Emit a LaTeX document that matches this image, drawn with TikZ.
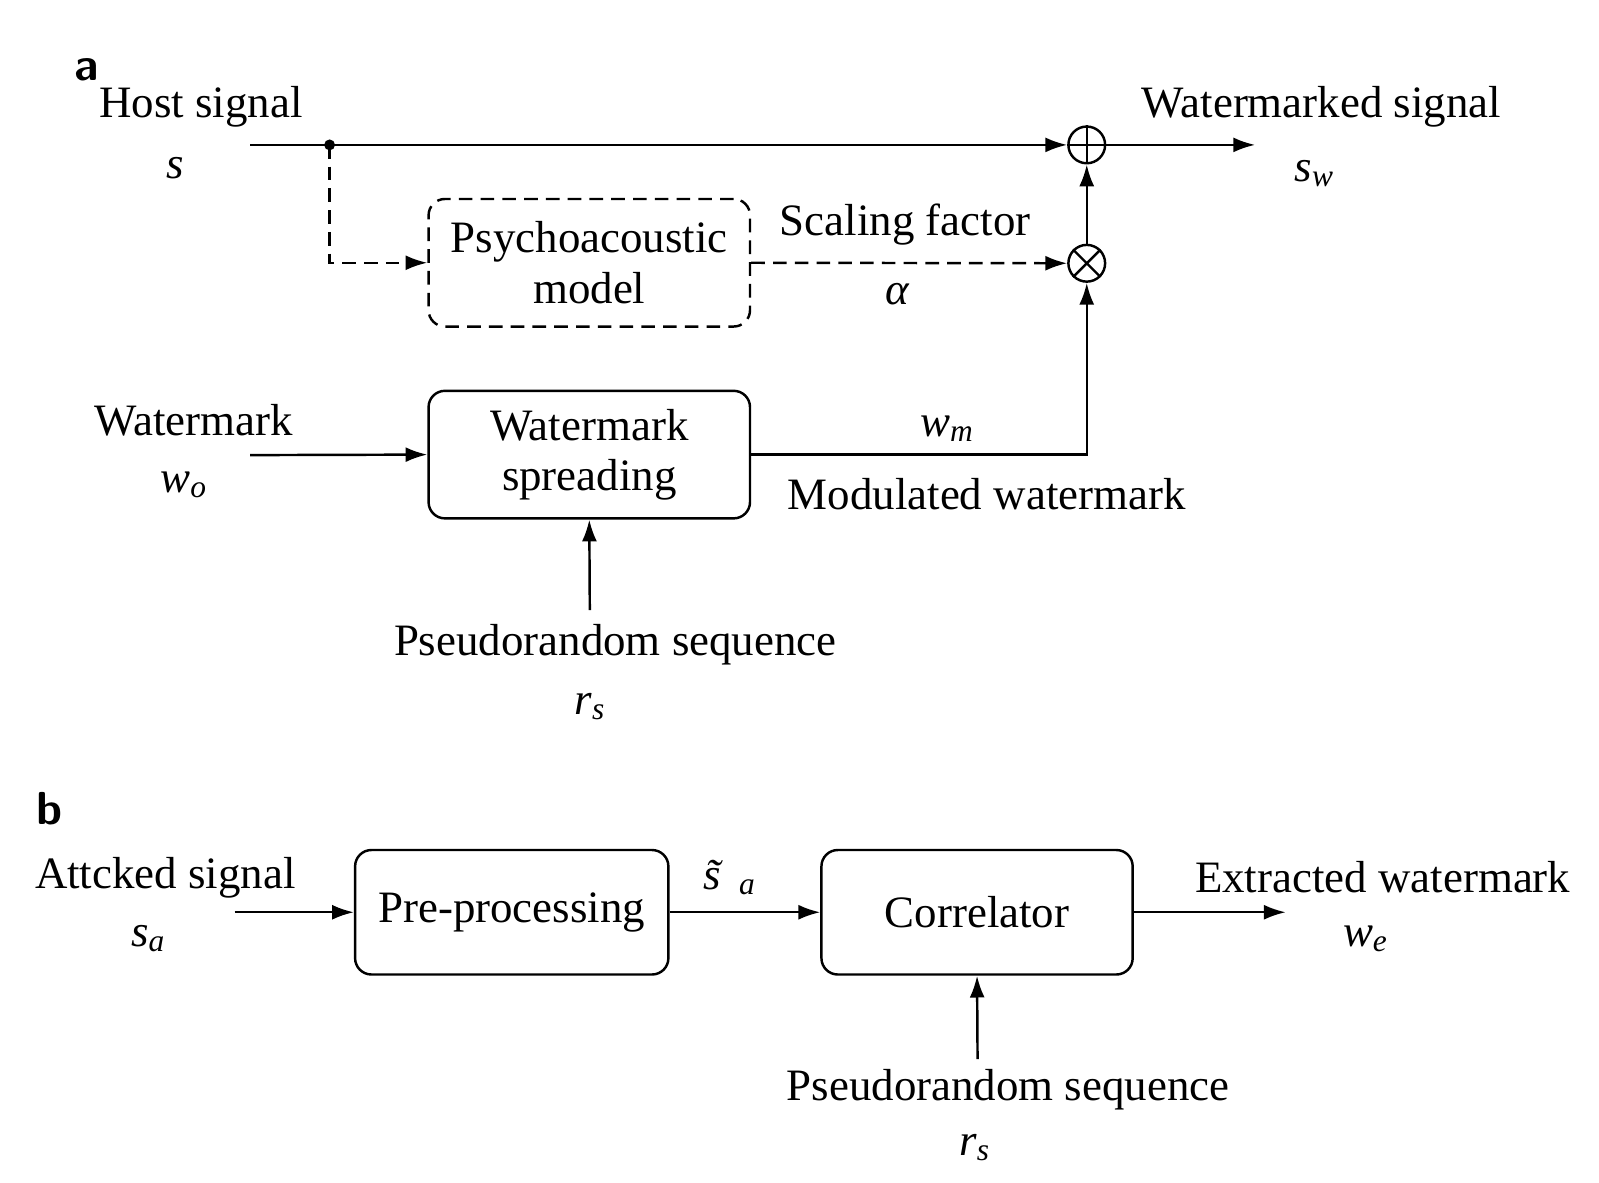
\documentclass[tikz,border=0pt]{standalone}
\usepackage{fontspec}
\setmainfont{Liberation Serif}
\usetikzlibrary{arrows.meta}
\newcommand{\vi}[2]{\textit{#1}\textsubscript{\textit{#2}}}
\begin{document}
\begin{tikzpicture}[x=0.75pt,y=-0.75pt,
  txt/.style={font=\fontsize{33}{37}\selectfont,align=center,inner sep=0pt},
  box/.style={draw,line width=1.8pt,rounded corners=12pt,minimum width=315*0.75pt,minimum height=125*0.75pt,txt},
  ln/.style={line width=1.8pt},
  ar/.style={ln,-{Latex[length=16pt,width=11pt]}},
  dsh/.style={dash pattern=on 10pt off 6pt},
  lab/.style={font=\fontsize{34}{34}\sffamily\bfseries,inner sep=0pt}]
\useasboundingbox (0,0) rectangle (1567,1159);
% part a
\node[lab] (la) at (85,68) {a};
\node[txt] (th) at (197,105) {Host signal};
\node[txt] (ts) at (172,165) {\textit{s}};
\coordinate (hin) at (245,142);
\coordinate (dot) at (323,142);
\fill (dot) circle (4pt);
\node[draw,circle,ln,minimum size=27pt,inner sep=0pt] (plus) at (1065,142) {};
\draw[ln] (plus.north)--(plus.south) (plus.west)--(plus.east);
\node[draw,circle,ln,minimum size=27pt,inner sep=0pt] (times) at (1065,258) {};
\draw[ln] (times.north west)--(times.south east) (times.north east)--(times.south west);
\draw[ar] (hin)--(plus.west);
\coordinate (out) at (1230,142);
\draw[ar] (plus.east)--(out);
\node[txt] (tw) at (1295,105) {Watermarked signal};
\node[txt] (tsw) at (1288,170) {\vi{s}{w}};
\node[box,dsh] (psy) at (577.5,257.5) {Psychoacoustic\\model};
\draw[ar,dsh] (dot)|-(psy.west);
\draw[ar,dsh] (psy.east)--(times.west);
\node[txt] (tsf) at (887,220) {Scaling factor};
\node[txt] (tal) at (880,288) {\textit{α}};
\draw[ar] (times.north)--(plus.south);
\node[box] (ws) at (577.5,445.5) {Watermark\\spreading};
\coordinate (win) at (245,446);
\draw[ar] (win)--(ws.west);
\node[txt] (twm) at (190,412) {Watermark};
\node[txt] (two) at (180,475) {\vi{w}{o}};
\draw[ar] (ws.east)-|(times.south);
\node[txt] (twmm) at (928,420) {\vi{w}{m}};
\node[txt] (tmod) at (967,484) {Modulated watermark};
\coordinate (pr1) at (578,598);
\draw[ar] (pr1)--(ws.south);
\node[txt] (tpr) at (603,632) {Pseudorandom sequence};
\node[txt] (trs) at (578,692) {\vi{r}{s}};
% part b
\node[lab] (lb) at (48,793) {b};
\node[box,minimum width=307*0.75pt,minimum height=122*0.75pt] (pre) at (501.5,894) {Pre-processing};
\node[box,minimum width=305*0.75pt,minimum height=122*0.75pt] (cor) at (957.5,894) {Correlator};
\coordinate (ain) at (230,894);
\draw[ar] (ain)--(pre.west);
\node[txt] (tat) at (162,860) {Attcked signal};
\node[txt] (tsa) at (145,920) {\vi{s}{a}};
\draw[ar] (pre.east)--(cor.west);
\node[txt] (tsta) at (715,860) {\vi{\~{s}}{a}};
\coordinate (eout) at (1260,894);
\draw[ar] (cor.east)--(eout);
\node[txt] (tex) at (1355,860) {Extracted watermark};
\node[txt] (twe) at (1338,920) {\vi{w}{e}};
\coordinate (pr2) at (958,1038);
\draw[ar] (pr2)--(cor.south);
\node[txt] (tpr2) at (988,1068) {Pseudorandom sequence};
\node[txt] (trs2) at (955,1125) {\vi{r}{s}};
\end{tikzpicture}
\end{document}
